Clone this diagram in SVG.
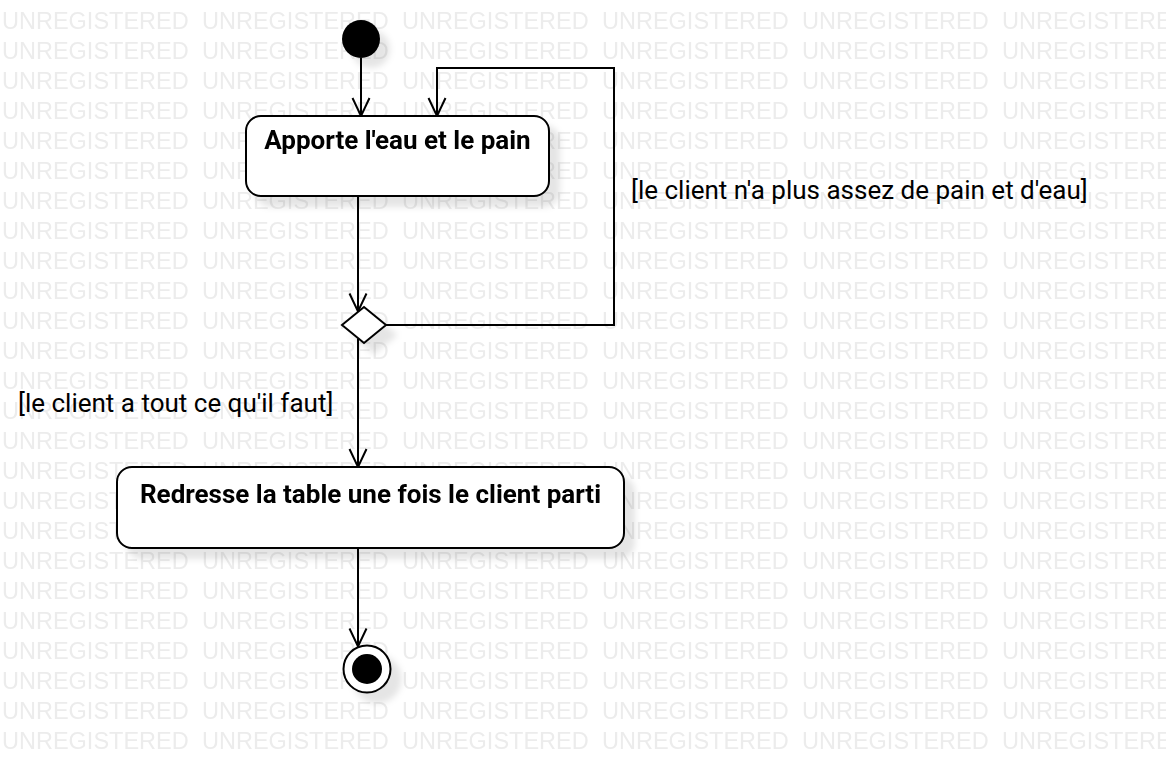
<svg xmlns="http://www.w3.org/2000/svg" width="1166" height="774" viewBox="0 0 1166 774">
<style>
.wm{font-family:"Liberation Sans",Arial,sans-serif;font-size:23.5px;fill:#ececec}
.node{fill:#fff;stroke:#000;stroke-width:2}
.title{font-family:Roboto,"Liberation Sans",sans-serif;font-size:26px;font-weight:bold;fill:#000;text-anchor:middle}
.guard{font-family:Roboto,"Liberation Sans",sans-serif;font-size:26px;fill:#000}
.edge{fill:none;stroke:#000;stroke-width:2}
</style>
<defs>
<pattern id="wm" x="0" y="-1" width="200" height="30" patternUnits="userSpaceOnUse">
<text class="wm" x="2" y="30">UNREGISTERED</text>
</pattern>
<filter id="sh" x="-20%" y="-20%" width="160%" height="160%">
<feDropShadow dx="10" dy="10" stdDeviation="3" flood-color="#000" flood-opacity="0.1"/>
</filter>
<marker id="arr" markerUnits="userSpaceOnUse" markerWidth="22" markerHeight="22" viewBox="0 0 22 22" refX="20" refY="11" orient="auto">
<path d="M2,2.5 L20,11 L2,19.5" fill="none" stroke="#000" stroke-width="2"/>
</marker>
</defs>
<rect width="1166" height="774" fill="#fff"/>
<rect width="1166" height="755" fill="url(#wm)"/>

<g id="connectors">
<path class="edge" d="M361,58 L361,116" marker-end="url(#arr)"/>
<path class="edge" d="M358,196 L358,311.5" marker-end="url(#arr)"/>
<path class="edge" d="M386,325 L614,325 L614,68 L437,68 L437,116" marker-end="url(#arr)"/>
<path class="edge" d="M358,338.5 L358,467" marker-end="url(#arr)"/>
<path class="edge" d="M358,548 L358,646.5" marker-end="url(#arr)"/>
<text class="guard" x="631" y="199">[le client n'a plus assez de pain et d'eau]</text>
<text class="guard" x="18" y="412">[le client a tout ce qu'il faut]</text>
</g>

<g id="initial" filter="url(#sh)">
<circle cx="361" cy="39" r="19" fill="#000"/>
</g>

<g id="apporte" filter="url(#sh)">
<rect class="node" x="246" y="116" width="303" height="80" rx="15" ry="15"/>
<text class="title" x="397.5" y="149">Apporte l'eau et le pain</text>
</g>

<g id="decision" filter="url(#sh)">
<polygon class="node" points="364,307 386,325 364,343 342,325"/>
</g>

<g id="redresse" filter="url(#sh)">
<rect class="node" x="117" y="467" width="507" height="81" rx="15" ry="15"/>
<text class="title" x="370.5" y="503">Redresse la table une fois le client parti</text>
</g>

<g id="final" filter="url(#sh)">
<circle cx="367" cy="669" r="23.5" fill="#fff" stroke="#000" stroke-width="2"/>
<circle cx="367" cy="669" r="15" fill="#000"/>
</g>
</svg>
